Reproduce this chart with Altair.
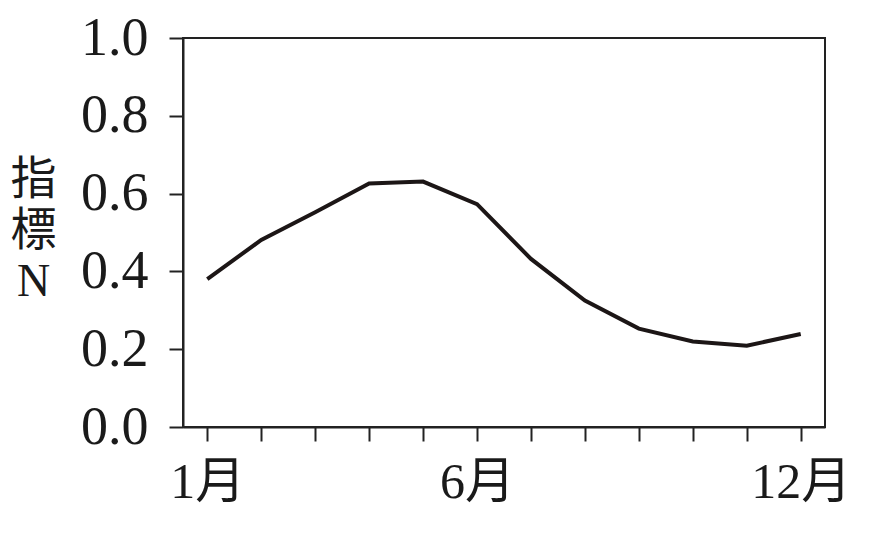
import altair as alt
import pandas as pd

months = [1, 2, 3, 4, 5, 6, 7, 8, 9, 10, 11, 12]
values = [0.380, 0.481, 0.552, 0.626, 0.631, 0.573, 0.432, 0.325, 0.253, 0.220, 0.209, 0.239]
y_ticks = [0.0, 0.2, 0.4, 0.6, 0.8, 1.0]

df = pd.DataFrame({"month": months, "value": values})

font = "Liberation Serif, Times New Roman, Noto Sans CJK JP"
label_expr = "datum.value == 1 ? '1月' : datum.value == 6 ? '6月' : datum.value == 12 ? '12月' : ''"

chart = (
    alt.Chart(df)
    .mark_line(color="#1c1616", strokeWidth=4, strokeJoin="miter")
    .encode(
        x=alt.X(
            "month:Q",
            scale=alt.Scale(domain=[0.55, 12.45], nice=False, zero=False),
            axis=alt.Axis(
                values=months,
                labelExpr=label_expr,
                title=None,
                grid=False,
                tickSize=14,
                tickWidth=2,
                tickColor="#222222",
                domainColor="#222222",
                domainWidth=2,
                labelFont=font,
                labelFontSize=50,
                labelColor="#1a1a1a",
                labelPadding=16,
                labelFlush=False,
                labelOverlap=False,
            ),
        ),
        y=alt.Y(
            "value:Q",
            scale=alt.Scale(domain=[0, 1], nice=False),
            axis=alt.Axis(
                values=y_ticks,
                format=".1f",
                title=["指", "標", "N"],
                titleAngle=0,
                titleFont=font,
                titleFontSize=46,
                titleFontWeight="normal",
                titleColor="#1a1a1a",
                titleAlign="center",
                titleBaseline="top",
                titleLineHeight=51,
                titleX=-150,
                titleY=119,
                grid=False,
                tickSize=14,
                tickWidth=2,
                tickColor="#222222",
                domainColor="#222222",
                domainWidth=2,
                labelFont=font,
                labelFontSize=54,
                labelColor="#1a1a1a",
                labelPadding=21,
                labelFlush=False,
                labelOverlap=False,
            ),
        ),
    )
    .properties(
        width=642,
        height=389,
        autosize=alt.AutoSizeParams(type="none"),
        padding={"left": 175, "top": 30, "right": 44, "bottom": 105},
        background="white",
    )
    .configure_view(stroke="#222222", strokeWidth=2)
)

chart.save("out.html", embed_options={"renderer": "svg", "actions": False})
